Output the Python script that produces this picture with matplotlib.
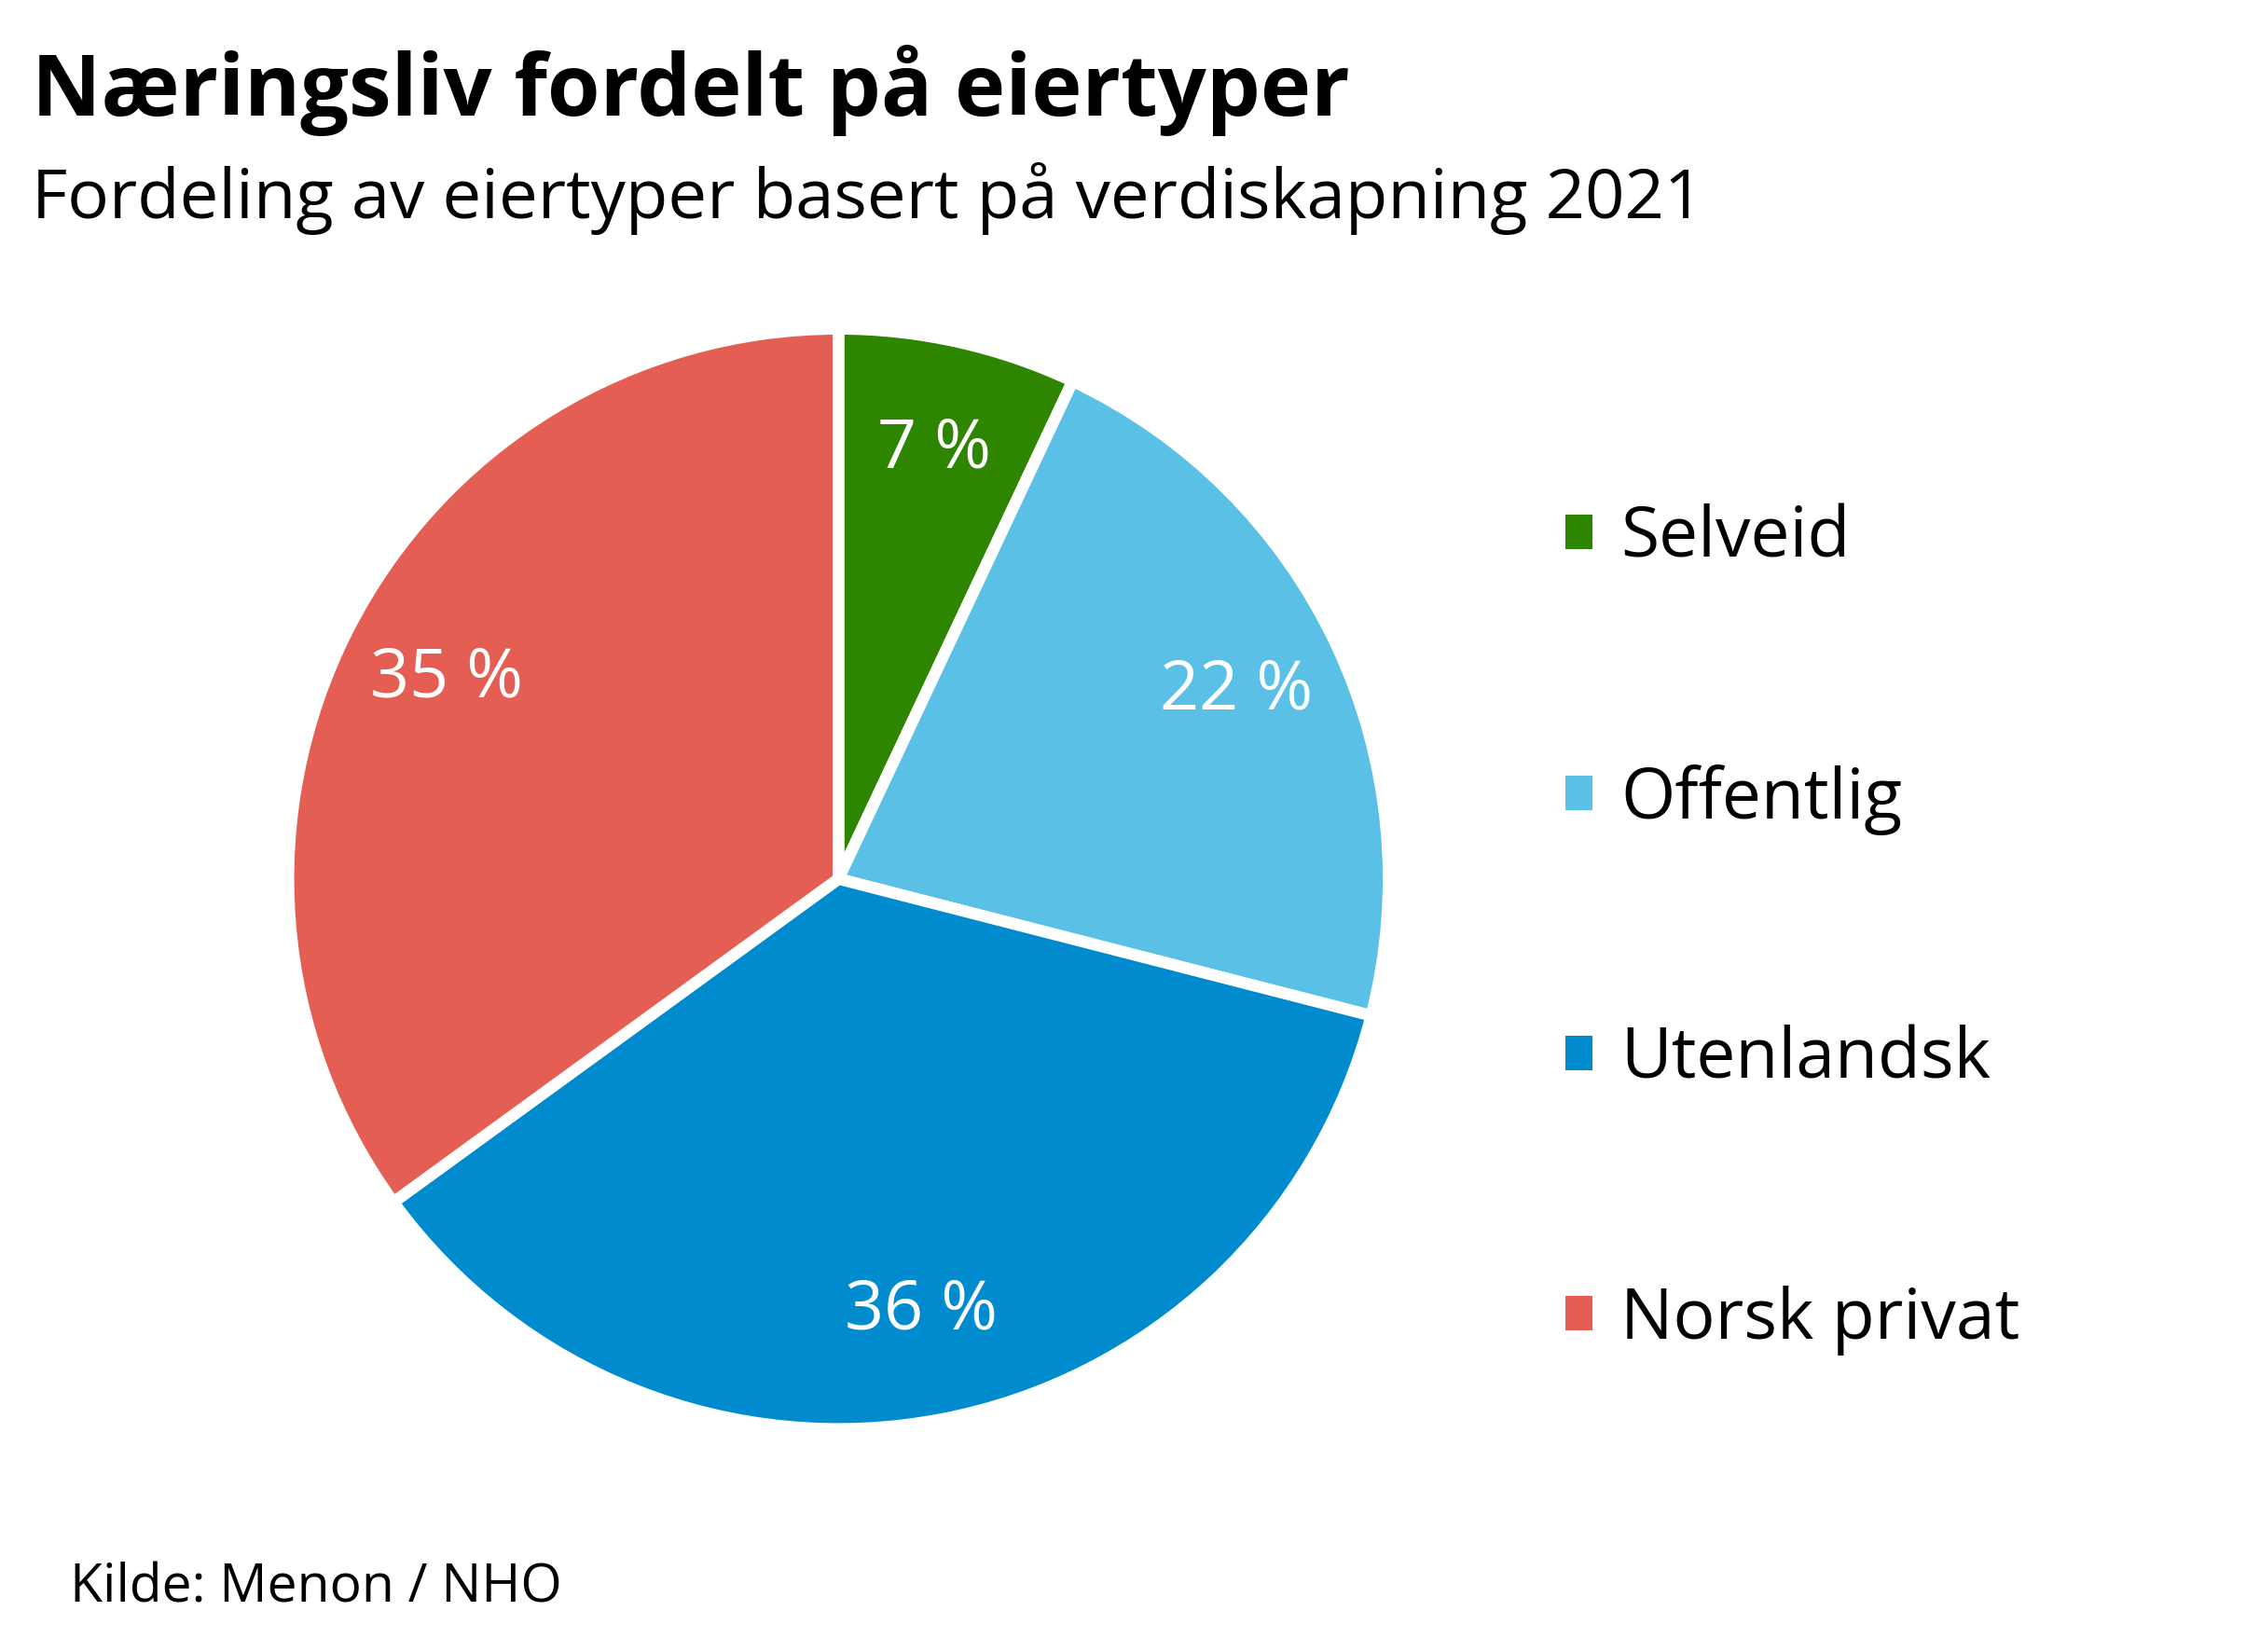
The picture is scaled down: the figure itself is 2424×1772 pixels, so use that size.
import matplotlib
matplotlib.use("Agg")
from matplotlib import pyplot as plt
from matplotlib.patches import Patch

plt.rcParams['font.family'] = ['Open Sans', 'DejaVu Sans']

# data
categories = ["Selveid", "Offentlig", "Utenlandsk", "Norsk privat"]
values = [7, 22, 36, 35]
colors = ["#2e8500", "#5bc0e6", "#008bcf", "#e55e53"]

fig = plt.figure(figsize=(24.24, 17.72), dpi=100)

# pie area
ax = fig.add_axes([0.371 - 0.2434, 0.468 - 0.333, 0.4868, 0.666])
wedges, texts, autotexts = ax.pie(values, colors=colors, startangle=90,
    counterclock=False, autopct=lambda p: "%d %%" % round(p),
    pctdistance=0.8, wedgeprops=dict(edgecolor="white", linewidth=9),
    textprops=dict(color="white", fontsize=53))
ax.set_aspect("equal")
ax.set_xlim(-1.0, 1.0)
ax.set_ylim(-1.0, 1.0)

# legend
handles = [Patch(facecolor=c, edgecolor="none") for c in colors]
fig.legend(handles, categories, loc="upper left",
    bbox_to_anchor=(0.665, 0.733), frameon=False,
    fontsize=54, handlelength=0.38, handleheight=0.38,
    handletextpad=0.4, labelspacing=2.72)

# titles
fig.text(0.014, 0.93, u"Næringsliv fordelt på eiertyper",
    fontsize=66, fontweight="bold", va="baseline")
fig.text(0.014, 0.868, u"Fordeling av eiertyper basert på verdiskapning 2021",
    fontsize=53.5, va="baseline")
fig.text(0.031, 0.03, "Kilde: Menon / NHO", fontsize=41, va="baseline")

fig.savefig("out.png", dpi=100)
